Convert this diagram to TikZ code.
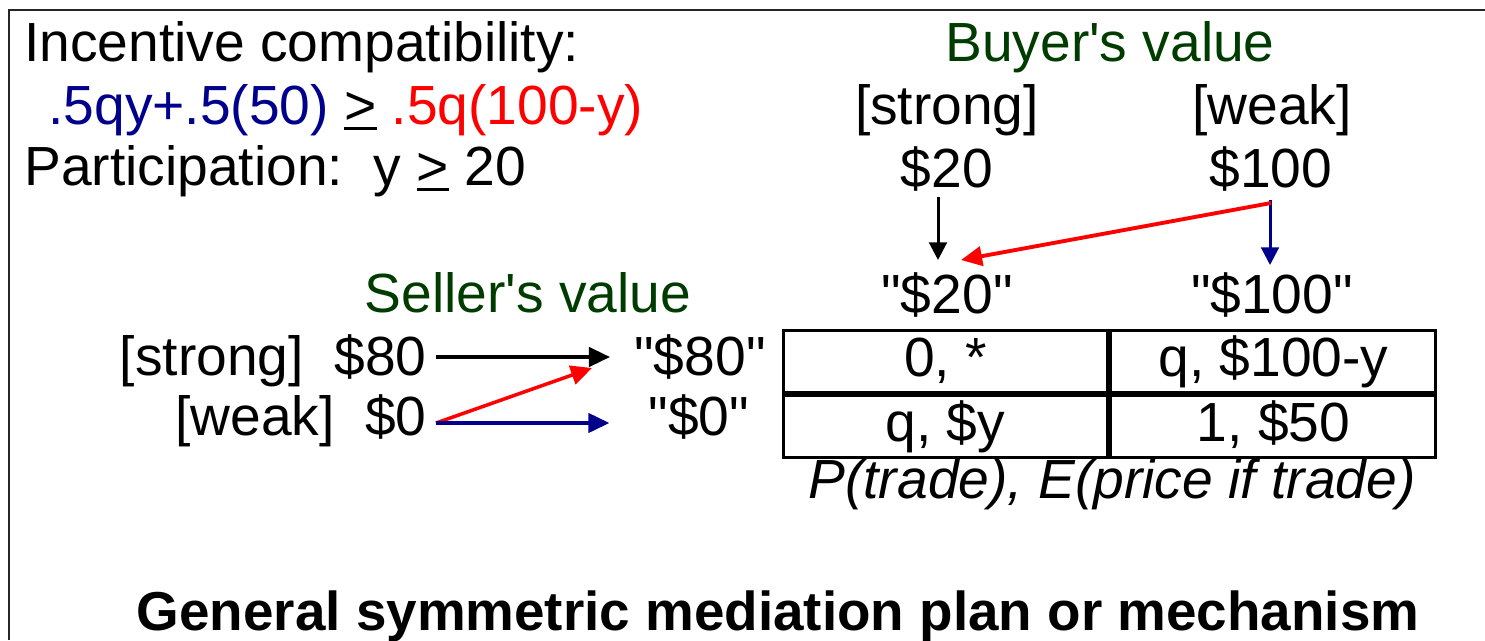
\documentclass[tikz,border=0pt]{standalone}
\usepackage{fontspec}
\setmainfont{Liberation Sans}[Ligatures=TeXOff]
\usetikzlibrary{calc,arrows.meta,positioning}
\definecolor{navy}{RGB}{0,0,140}
\definecolor{dkgreen}{RGB}{0,60,0}
\newcommand{\bigtxt}{\fontsize{31.4pt}{36pt}\selectfont}
\newcommand{\ulgt}{\mbox{\setbox0\hbox{>}\rlap{\rule[-3.5pt]{\wd0}{2pt}}\box0}}

\begin{document}
\begin{tikzpicture}[x=0.02cm,y=-0.02cm]

\tikzset{txt/.style={font=\bigtxt,inner sep=0pt,anchor=base},
cell/.style={font=\bigtxt,draw,line width=1.7pt,inner sep=0pt,minimum width=6.5cm,minimum height=1.25cm,text height=22pt,text depth=5pt},
sellarrow/.style={line width=2pt,-{Triangle[length=12pt,width=11pt]}},
buyarrow/.style={line width=1.7pt,-{Triangle[length=10pt,width=10pt]}}}

\useasboundingbox (0,0) rectangle (1485,640);

% Frame
\draw[line width=1.1pt,black!85] (9,640) -- (9,10) -- (1485,10);

% Constraints
\node[txt,anchor=base west] (ic) at (24,61) {Incentive compatibility:};
\node[txt,anchor=base west] (icf) at (48,124) {\textcolor{navy}{.5qy+.5(50)} \ulgt{} \textcolor{red}{.5q(100-y)}};
\node[txt,anchor=base west] (pc) at (24,185) {Participation:\ \ y \ulgt{} 20};

% Buyer's values and reports
\node[txt,dkgreen] (bv) at (1110,61) {Buyer's value};
\node[txt] (bs) at (947,124) {[strong]};
\node[txt] (bw) at (1272,124) {[weak]};
\node[txt] (b20) at (947,187) {\$20};
\node[txt] (b100) at (1271,187) {\$100};
\node[txt] (r20) at (947,313) {"\$20"};
\node[txt] (r100) at (1272,313) {"\$100"};

% Seller's values and reports
\node[txt,dkgreen] (sv) at (528,312) {Seller's value};
\node[txt,anchor=base east] (s80) at (427,375) {[strong]\ \ \$80};
\node[txt,anchor=base east] (s0) at (427,435) {[weak]\ \ \$0};
\node[txt] (q80) at (700,375) {"\$80"};
\node[txt] (q0) at (699,435) {"\$0"};

% Table
\node[cell] (c11) at (945.5,361.25) {0, *};
\node[cell,right=0pt of c11] (c12) {q, \$100-y};
\node[cell,below=0pt of c11] (c21) {q, \$y};
\node[cell,below=0pt of c12] (c22) {1, \$50};
\node[txt,font=\bigtxt\itshape] (lbl) at (1112,498) {P(trade), E(price if trade)};

% Title
\node[txt,font=\fontsize{31.2pt}{36pt}\selectfont\bfseries] (title) at (778,630) {General symmetric mediation plan or mechanism};

% Buyer arrows
\draw[buyarrow] ($(b20.base)+(-9,10)$) -- ($(r20.base)+(-9,-53)$);
\draw[buyarrow,navy] ($(b100.base)+(-1,13)$) -- ($(r100.base)+(-2,-48)$);
\draw[sellarrow,red,line width=2.2pt] ($(b100.base)+(0,16)$) -- ($(r20.base)+(14,-53)$);

% Seller arrows
\draw[sellarrow] ($(s80.base east)+(9,-18)$) -- ($(q80.base west)+(-24,-18)$);
\draw[sellarrow,red] ($(s0.base east)+(9,-12)$) -- ($(q80.base west)+(-42,-7)$);
\draw[sellarrow,navy] ($(s0.base east)+(9,-12)$) -- ($(q0.base west)+(-39,-12)$);

\end{tikzpicture}
\end{document}
